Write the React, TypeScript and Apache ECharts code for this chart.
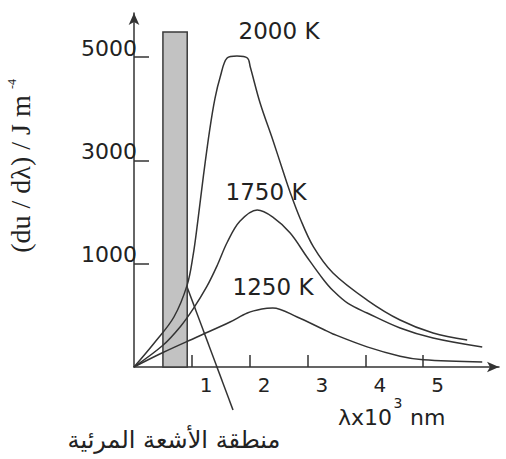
import React, { useEffect, useRef } from "react";
import * as echarts from "echarts";

// Wavelength (x 10^3 nm) and spectral energy density, in the axis' own units
// (axis tick 2000 is labelled "1000", 4000 -> "3000", 6000 -> "5000").
const x2000 = [0, 0.35, 0.69, 0.92, 1.02, 1.1, 1.2, 1.31, 1.4, 1.49, 1.61, 1.78, 1.96, 2.01, 2.18, 2.4, 2.58, 2.7, 2.87, 3.1, 3.44, 4.03, 4.6, 5.17, 5.76];
const y2000 = [0, 465, 968, 1590, 2150, 2800, 3700, 4600, 5200, 5615, 5983, 6021, 5983, 5808, 5111, 4395, 3780, 3380, 2880, 2330, 1820, 1297, 910, 658, 523];

const x1750 = [0, 0.5, 0.8, 1.02, 1.26, 1.44, 1.61, 1.83, 2.13, 2.4, 2.7, 2.99, 3.27, 3.44, 3.7, 4.03, 4.6, 5.17, 6.02];
const y1750 = [0, 420, 780, 1120, 1560, 1970, 2410, 2820, 3040, 2904, 2594, 2130, 1700, 1480, 1230, 1046, 755, 561, 387];

const x1250 = [0, 0.5, 1.09, 1.66, 1.96, 2.21, 2.4, 2.82, 3.27, 3.44, 4.03, 4.6, 5.0, 6.02];
const y1250 = [0, 280, 581, 871, 1046, 1123, 1142, 968, 730, 640, 390, 210, 140, 97];

const xTicks = [1, 2, 3, 4, 5];
const yTicks = [2000, 4000, 6000];
const yTickLabels = ["1000", "3000", "5000"];

// visible region band (x 10^3 nm) and its height (axis units)
const visibleBand = [0.5, 0.92];
const visibleTop = 6486;

const curveNames = ["2000 K", "1750 K", "1250 K"];

const pairs = (xs: number[], ys: number[]) => xs.map((x, i) => [x, ys[i]]);

export default function App() {
  const ref = useRef<HTMLDivElement>(null);
  useEffect(() => {
    document.body.style.margin = "0";
    const chart = echarts.init(ref.current!, null, { renderer: "svg" });
    const lineColor = "#333";
    const textColor = "#222";
    const font = "DejaVu Sans";
    const lineSeries = (name: string, data: number[][]) => ({
      name,
      type: "line",
      data,
      smooth: 0.35,
      showSymbol: false,
      symbol: "none",
      lineStyle: { color: lineColor, width: 1.5 },
      z: 3,
    });
    chart.setOption({
      animation: false,
      backgroundColor: "#fff",
      grid: { left: 134, top: 13, right: 7, bottom: 92 },
      xAxis: {
        type: "value",
        min: 0,
        max: 6.31,
        interval: 1,
        splitLine: { show: false },
        axisLine: {
          lineStyle: { color: lineColor, width: 1.5 },
          symbol: ["none", "arrow"],
          symbolSize: [8, 12],
        },
        axisTick: {
          inside: true,
          length: 12,
          customValues: xTicks,
          lineStyle: { color: lineColor, width: 1.5 },
        },
        axisLabel: {
          customValues: xTicks,
          align: "left",
          padding: [0, 0, 0, 8],
          margin: 8,
          fontSize: 20,
          fontFamily: font,
          color: textColor,
        },
      },
      yAxis: {
        type: "value",
        min: 0,
        max: 6854,
        splitLine: { show: false },
        axisLine: {
          lineStyle: { color: lineColor, width: 1.5 },
          symbol: ["none", "arrow"],
          symbolSize: [8, 12],
        },
        axisTick: {
          inside: true,
          length: 15,
          customValues: yTicks,
          lineStyle: { color: lineColor, width: 1.5 },
        },
        axisLabel: {
          customValues: yTicks,
          formatter: (v: number) => yTickLabels[yTicks.indexOf(v)] ?? "",
          verticalAlign: "bottom",
          lineHeight: 18,
          margin: -3,
          fontSize: 22,
          fontFamily: font,
          color: textColor,
        },
      },
      series: [
        {
          type: "line",
          data: [],
          z: 1,
          markArea: {
            silent: true,
            itemStyle: { color: "#c2c2c2", borderColor: "#3a3a3a", borderWidth: 1.5 },
            data: [[{ xAxis: visibleBand[0], yAxis: 0 }, { xAxis: visibleBand[1], yAxis: visibleTop }]],
          },
        },
        lineSeries(curveNames[0], pairs(x2000, y2000)),
        lineSeries(curveNames[1], pairs(x1750, y1750)),
        lineSeries(curveNames[2], pairs(x1250, y1250)),
      ],
      graphic: [
        { type: "text", x: 279, y: 31, style: { text: curveNames[0], align: "center", verticalAlign: "middle", fontSize: 23, fontFamily: font, fill: textColor } },
        { type: "text", x: 266, y: 192, style: { text: curveNames[1], align: "center", verticalAlign: "middle", fontSize: 23, fontFamily: font, fill: textColor } },
        { type: "text", x: 273, y: 287, style: { text: curveNames[2], align: "center", verticalAlign: "middle", fontSize: 23, fontFamily: font, fill: textColor } },
        {
          type: "text", x: 20, y: 174, rotation: Math.PI / 2,
          style: { text: "(du / dλ) / J m", align: "center", verticalAlign: "middle", fontSize: 28, fontFamily: "Liberation Serif", fill: textColor },
        },
        {
          type: "text", x: 12, y: 84, rotation: Math.PI / 2,
          style: { text: "-4", align: "center", verticalAlign: "middle", fontSize: 12, fontFamily: "Liberation Serif", fill: textColor },
        },
        { type: "text", x: 338, y: 428, style: { text: "λx10", align: "left", verticalAlign: "bottom", fontSize: 22, fontFamily: font, fill: textColor } },
        { type: "text", x: 398, y: 403, style: { text: "3", align: "center", verticalAlign: "middle", fontSize: 14, fontFamily: font, fill: textColor } },
        { type: "text", x: 410, y: 428, style: { text: "nm", align: "left", verticalAlign: "bottom", fontSize: 22, fontFamily: font, fill: textColor } },
        { type: "text", x: 174, y: 440, style: { text: "منطقة الأشعة المرئية", align: "center", verticalAlign: "middle", fontSize: 24, fontFamily: font, fill: textColor } },
        { type: "line", shape: { x1: 233, y1: 410, x2: 180, y2: 268 }, style: { stroke: lineColor, lineWidth: 1.5 } },
        { type: "polygon", shape: { points: [[178, 262], [184.4, 269.2], [177.8, 271.6]] }, style: { fill: "#111" } },
      ],
    });
    return () => chart.dispose();
  }, []);
  return <div ref={ref} style={{ width: 506, height: 459 }} />;
}
